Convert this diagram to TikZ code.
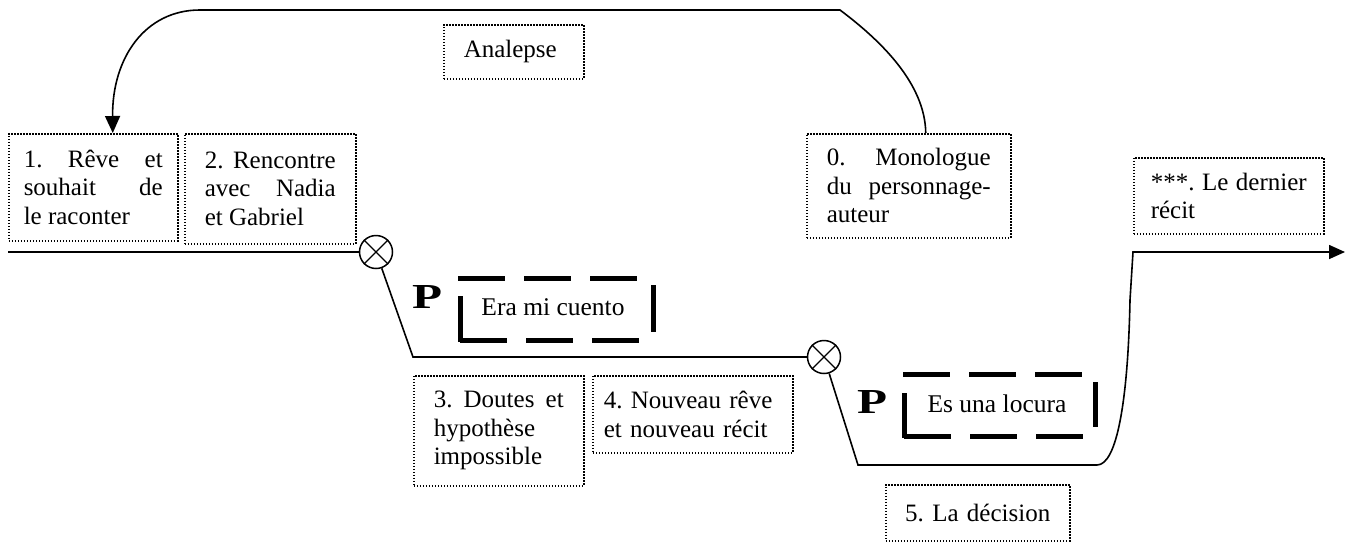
\documentclass[tikz,border=0pt]{standalone}
\usepackage{fontspec}
\usepackage{graphicx}
\setmainfont{Liberation Serif}
\usetikzlibrary{arrows.meta}
\newcommand\boxfont{\fontsize{25}{28.5}\selectfont\frenchspacing\tolerance=9999\hyphenpenalty=10000\relax}
\newcommand\pfont{\fontsize{25.5}{28}\selectfont}
\begin{document}
\begin{tikzpicture}[x=1pt,y=-1pt,
  tbox/.style={draw, line width=1.5pt, dash pattern=on 1.5pt off 1.5pt, inner ysep=0pt, font=\boxfont, anchor=north west, align=justify},
  line/.style={line width=1.6pt},
  pframe/.style={line width=5pt, dash pattern=on 47pt off 19pt},
  pbar/.style={line width=5pt},
  xcirc/.style={circle, draw, line width=1.5pt, minimum size=33pt, inner sep=0pt},
  xline/.style={line width=1.3pt},
  plabel/.style={inner sep=0pt},
  ptext/.style={inner sep=0pt, font=\pfont, anchor=base}]
\useasboundingbox (0,0) rectangle (1354,544);

% text boxes
\node[tbox, text width=139pt, inner xsep=15pt, minimum height=107pt] (b1) at (8,133)
  {1. Rêve et\linebreak souhait de\linebreak le raconter};
\node[tbox, text width=131pt, inner xsep=20pt, minimum height=110pt] (b2) at (184,133)
  {2. Rencontre\linebreak avec Nadia\linebreak et Gabriel};
\node[tbox, text width=164pt, inner xsep=20pt, minimum height=104pt] (b0) at (806,133)
  {0. Monologue\linebreak du personnage-\linebreak auteur};
\node[tbox, text width=156pt, inner xsep=17pt, minimum height=76pt] (bs) at (1133,157)
  {***. Le dernier\linebreak récit};
\node[tbox, text width=130pt, inner xsep=20pt, minimum height=110pt] (b3) at (413,375)
  {3. Doutes et\linebreak hypothèse\\ impossible};
\node[tbox, align=left, text width=178pt, inner xsep=11pt, minimum height=77pt] (b4) at (592,375)
  {4. Nouveau rêve\\ et nouveau récit};
\node[tbox, align=center, text width=160pt, inner xsep=12pt, minimum height=56pt] (b5) at (885,484)
  {5. La décision};
\node[tbox, align=left, text width=100pt, inner xsep=20pt, minimum height=54pt] (ba) at (443,24)
  {Analepse};

% crossing circles
\node[xcirc] (c1) at (376,252) {};
\node[xcirc] (c2) at (824,357) {};
\draw[xline] (c1.north west) -- (c1.south east) (c1.north east) -- (c1.south west);
\draw[xline] (c2.north west) -- (c2.south east) (c2.north east) -- (c2.south west);

% main line
\coordinate (s0) at (8,252);
\coordinate (k1) at (413,357);
\coordinate (k2) at (858,465);
\coordinate (k3) at (1097,465);
\coordinate (k4) at (1130,300);
\coordinate (k5) at (1133,252);
\coordinate (e) at (1345,252);
\draw[line] (s0) -- (c1.west);
\draw[line] (c1) -- (k1) -- (c2.west);
\draw[line, -{Triangle[length=16pt,width=14pt]}] (c2) -- (k2) -- (k3)
  .. controls (1117,465) and (1128,400) .. (k4) -- (k5) -- (e);

% analepse arc
\coordinate (t1) at (840,10);
\coordinate (t2) at (200,10);
\draw[line, -{Triangle[length=17pt,width=15pt]}] ([xshift=17pt]b0.north)
  .. controls (925,83) and (880,40) .. (t1) -- (t2)
  .. controls (145,10) and (112,58) .. ([xshift=19.5pt]b1.north);

% P markers and dashed frames
\node[plabel] (p1) at (427,296.5) {\resizebox{30pt}{23pt}{\bfseries P}};
\node[ptext] (era) at (553,315) {Era mi cuento};
\draw[pframe] (458,278) -- (640,278);
\draw[pbar] (460,296) -- (460,342);
\draw[pframe] (460,340) -- (642,340);
\draw[pbar] (653,285) -- (653,332);

\node[plabel] (p2) at (872,401.5) {\resizebox{30pt}{23pt}{\bfseries P}};
\node[ptext] (loc) at (997,412) {Es una locura};
\draw[pframe] (903,374) -- (1085,374);
\draw[pbar] (904,393) -- (904,438);
\draw[pframe] (904,436) -- (1086,436);
\draw[pbar] (1095,382) -- (1095,427);
\end{tikzpicture}
\end{document}
